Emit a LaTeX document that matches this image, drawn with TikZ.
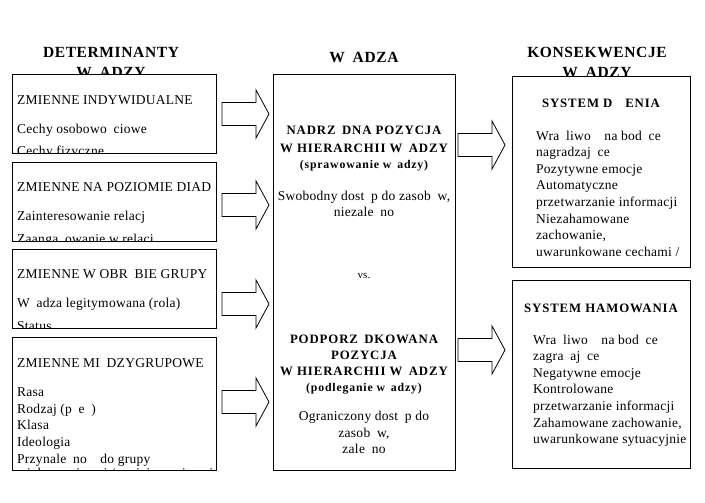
\documentclass[tikz,border=0pt]{standalone}
\usepackage{fontspec}
\setmainfont[LetterSpace=2]{Liberation Serif}
\newfontfamily\hdfont[LetterSpace=7]{Liberation Serif}
\newfontfamily\tlfont[LetterSpace=4]{Liberation Serif}
\newcommand\gp{\hspace{0.5em}}
\begin{document}
\begin{tikzpicture}[x=1pt,y=-1pt]
\tikzset{
  box/.style={draw=black, line width=0.8pt, fill=white, inner sep=0pt, anchor=north west},
  body/.style={inner sep=0pt, font=\fontsize{13.5}{15}\selectfont},
  bl/.style={body, anchor=base west},
  hd/.style={inner sep=0pt, anchor=base, font=\hdfont\bfseries\fontsize{12.8}{14}\selectfont},
  sub/.style={inner sep=0pt, anchor=base, font=\hdfont\bfseries\fontsize{11.8}{13}\selectfont},
  ttl/.style={inner sep=0pt, anchor=base, font=\tlfont\bfseries\fontsize{15.5}{17}\selectfont},
  barrow/.pic={\draw[line width=0.8pt, fill=white] (0,-11.5) -- (34,-11.5) -- (34,-24) -- (47,0) -- (34,24) -- (34,11.5) -- (0,11.5) -- cycle;}
}
\useasboundingbox (0,0) rectangle (705,503);
\fill[white] (0,0) rectangle (705,503);

% titles
\node[ttl] (tl1) at (111,57.5) {DETERMINANTY};
\node[ttl] (tl2) at (111,78) {W\gp ADZY};
\node[ttl] (tc) at (364,63) {W\gp ADZA};
\node[ttl] (tr1) at (597,57.5) {KONSEKWENCJE};
\node[ttl] (tr2) at (597,78) {W\gp ADZY};

% boxes
\node[box, minimum width=204pt, minimum height=79pt] (b1) at (12,74) {};
\node[box, minimum width=204pt, minimum height=79pt] (b2) at (12,162) {};
\node[box, minimum width=204pt, minimum height=79pt] (b3) at (12,249) {};
\node[box, minimum width=204pt, minimum height=133pt] (b4) at (12,337) {};
\node[box, minimum width=182pt, minimum height=396pt] (bc) at (273,74) {};
\node[box, minimum width=178pt, minimum height=191pt] (r1) at (512,76) {};
\node[box, minimum width=178pt, minimum height=188pt] (r2) at (512,280) {};

% arrows
\pic at (222,114) {barrow};
\pic at (222,205) {barrow};
\pic at (222,304) {barrow};
\pic at (222,402) {barrow};
\pic at (458,145) {barrow};
\pic at (458,350) {barrow};

% box 1
\begin{scope}
\clip (b1.north west) rectangle (b1.south east);
\node[bl] (a1) at (17,105) {ZMIENNE INDYWIDUALNE};
\node[bl] (a2) at (17,134) {Cechy osobowo\gp ciowe};
\node[bl] (a3) at (17,155) {Cechy fizyczne};
\end{scope}
% box 2
\begin{scope}
\clip (b2.north west) rectangle (b2.south east);
\node[bl] (c1) at (17,191) {ZMIENNE NA POZIOMIE DIAD};
\node[bl] (c2) at (17,220) {Zainteresowanie relacj};
\node[bl] (c3) at (17,243) {Zaanga\gp owanie w relacj};
\end{scope}
% box 3
\begin{scope}
\clip (b3.north west) rectangle (b3.south east);
\node[bl] (d1) at (17,278) {ZMIENNE W OBR\gp BIE GRUPY};
\node[bl] (d2) at (17,307) {W\gp adza legitymowana (rola)};
\node[bl] (d3) at (17,330) {Status};
\end{scope}
% box 4
\begin{scope}
\clip (b4.north west) rectangle (b4.south east);
\node[bl] (e1) at (17,367) {ZMIENNE MI\gp DZYGRUPOWE};
\node[bl] (e2) at (17,396) {Rasa};
\node[bl] (e3) at (17,413) {Rodzaj (p\gp e\gp )};
\node[bl] (e4) at (17,429) {Klasa};
\node[bl] (e5) at (17,446) {Ideologia};
\node[bl] (e6) at (17,463) {Przynale\gp no\gp\gp do grupy};
\node[bl] (e7) at (17,477.5) {wi\gp kszo\gp ciowej / mniejszo\gp ciowej};
\end{scope}

% central
\node[hd] (m1) at (364,135) {NADRZ\gp DNA POZYCJA};
\node[hd] (m2) at (364,152) {W HIERARCHII W\gp ADZY};
\node[sub] (m3) at (364,168) {(sprawowanie w\gp adzy)};
\node[body, anchor=base] (m4) at (364,200) {Swobodny dost\gp p do zasob\gp w,};
\node[body, anchor=base] (m5) at (364,216) {niezale\gp no};
\node[inner sep=0pt, anchor=base, font=\fontsize{11}{13}\selectfont] (vs) at (364,278) {vs.};
\node[hd] (n1) at (364,343) {PODPORZ\gp DKOWANA};
\node[hd] (n2) at (364,359) {POZYCJA};
\node[hd] (n3) at (364,375) {W HIERARCHII W\gp ADZY};
\node[sub] (n4) at (364,391) {(podleganie w\gp adzy)};
\node[body, anchor=base] (n5) at (364,420) {Ograniczony dost\gp p do};
\node[body, anchor=base] (n6) at (364,437) {zasob\gp w,};
\node[body, anchor=base] (n7) at (364,453) {zale\gp no};

% right box 1
\begin{scope}
\clip (r1.north west) rectangle (r1.south east);
\node[hd] (p0) at (601,107) {SYSTEM D\gp\gp ENIA};
\node[bl] (p1) at (536,140) {Wra\gp liwo\gp\gp na bod\gp ce};
\node[bl] (p2) at (536,156.6) {nagradzaj\gp ce};
\node[bl] (p3) at (536,173.2) {Pozytywne emocje};
\node[bl] (p4) at (536,189.8) {Automatyczne};
\node[bl] (p5) at (536,206.4) {przetwarzanie informacji};
\node[bl] (p6) at (536,223) {Niezahamowane};
\node[bl] (p7) at (536,239.6) {zachowanie,};
\node[bl] (p8) at (536,256.2) {uwarunkowane cechami /};
\end{scope}
% right box 2
\begin{scope}
\clip (r2.north west) rectangle (r2.south east);
\node[hd] (q0) at (601,312) {SYSTEM HAMOWANIA};
\node[bl] (q1) at (533,344) {Wra\gp liwo\gp\gp na bod\gp ce};
\node[bl] (q2) at (533,360.6) {zagra\gp aj\gp ce};
\node[bl] (q3) at (533,377.2) {Negatywne emocje};
\node[bl] (q4) at (533,393.8) {Kontrolowane};
\node[bl] (q5) at (533,410.4) {przetwarzanie informacji};
\node[bl] (q6) at (533,427) {Zahamowane zachowanie,};
\node[bl] (q7) at (533,443.6) {uwarunkowane sytuacyjnie};
\end{scope}
\end{tikzpicture}
\end{document}
